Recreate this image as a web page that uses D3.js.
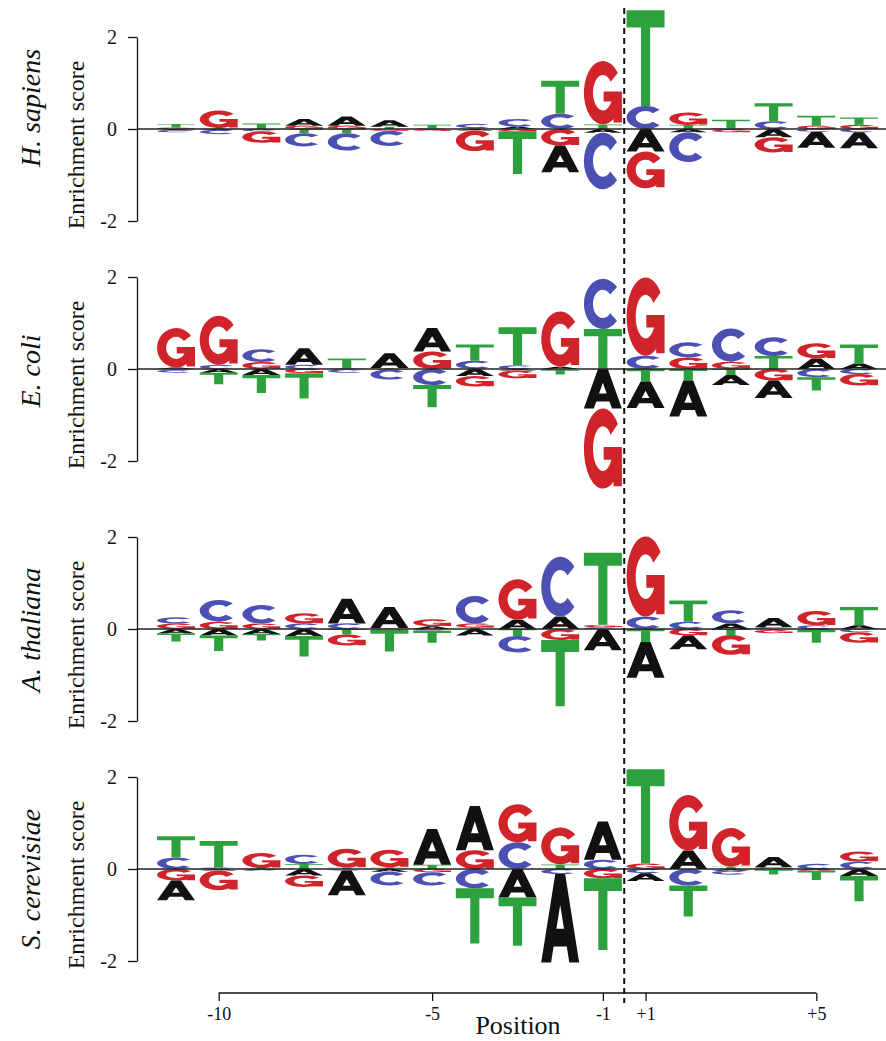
<!DOCTYPE html>
<html>
<head>
<meta charset="utf-8">
<script src="https://cdn.jsdelivr.net/npm/d3@7"></script>
<style>
  body { margin: 0; background: #fff; }
  svg { display: block; }
  text { font-family: "Liberation Serif", "Times New Roman", serif; fill: #111; }
</style>
</head>
<body>
<svg id="chart" width="886" height="1041"></svg>
<script>
// Sequence positions around the cleavage site (no position 0)
const positions = ["-11","-10","-9","-8","-7","-6","-5","-4","-3","-2","-1","+1","+2","+3","+4","+5","+6"];
const xTickLabels = ["-10","-5","-1","+1","+5"];
const yTickValues = [-2, 0, 2];
const species = ["H. sapiens", "E. coli", "A. thaliana", "S. cerevisiae"];

// Enrichment scores per nucleotide, one value per position
const sapiensA = [-0.03,-0.02,-0.02, 0.15, 0.20, 0.14,-0.01,-0.03, 0.05,-0.58,-0.08,-0.49,-0.07,-0.01,-0.18,-0.35,-0.35];
const sapiensC = [-0.04,-0.09,-0.03,-0.29,-0.38,-0.33, 0.01, 0.09, 0.17, 0.33,-1.23, 0.50,-0.65, 0.02, 0.17,-0.06,-0.07];
const sapiensG = [ 0.03, 0.38,-0.25, 0.07, 0.07,-0.04,-0.03,-0.45,-0.05,-0.36, 1.38,-0.80, 0.27,-0.06,-0.33, 0.07, 0.09];
const sapiensT = [ 0.08, 0.02, 0.12,-0.09,-0.09, 0.05, 0.08, 0.02,-0.93, 0.72, 0.10, 2.08, 0.09, 0.18, 0.39, 0.22, 0.16];

const coliA = [ 0.03,-0.08,-0.13, 0.36, 0.01, 0.32, 0.51,-0.15,-0.03, 0.05,-0.86,-0.58,-0.78,-0.22,-0.38, 0.23, 0.12];
const coliC = [-0.06, 0.09, 0.28, 0.09,-0.07,-0.22,-0.35, 0.18, 0.08,-0.02, 1.09, 0.29, 0.33, 0.72, 0.41,-0.18,-0.11];
const coliG = [ 0.86, 1.07, 0.15,-0.09,-0.01,-0.01, 0.38,-0.23,-0.17, 1.20,-1.74, 1.70, 0.25, 0.16,-0.25, 0.33,-0.25];
const coliT = [-0.02,-0.25,-0.39,-0.55, 0.22, 0.02,-0.48, 0.35, 0.83,-0.10, 0.87,-0.27,-0.25,-0.13, 0.28,-0.29, 0.41];

const thalianaA = [-0.10,-0.14,-0.11,-0.15, 0.54, 0.46, 0.06,-0.14, 0.20, 0.27,-0.46,-0.78,-0.30, 0.12, 0.20,-0.02, 0.08];
const thalianaC = [ 0.13, 0.47, 0.40, 0.12, 0.12, 0.02,-0.04, 0.60,-0.36, 1.30, 0.04, 0.27, 0.16, 0.29, 0.04, 0.08,-0.07];
const thalianaG = [ 0.12, 0.16, 0.12, 0.22,-0.24,-0.02, 0.15, 0.09, 0.88,-0.24, 0.05, 1.74,-0.14,-0.43,-0.07, 0.31,-0.23];
const thalianaT = [-0.17,-0.34,-0.14,-0.45,-0.12,-0.47,-0.26, 0.03,-0.15,-1.44, 1.57,-0.28, 0.46,-0.13,-0.02,-0.28, 0.40];

const cerevisiaeA = [-0.43,-0.03,-0.02,-0.14,-0.54,-0.06, 0.78, 0.96,-0.62,-1.92, 0.83,-0.17, 0.40,-0.04, 0.22,-0.02,-0.15];
const cerevisiaeC = [ 0.25, 0.03,-0.02, 0.20,-0.03,-0.30,-0.29,-0.42, 0.58,-0.11, 0.20,-0.09,-0.36,-0.08,-0.02, 0.11, 0.16];
const cerevisiaeG = [-0.25,-0.43, 0.33,-0.25, 0.41, 0.38,-0.07, 0.41, 0.83, 0.80,-0.20, 0.12, 1.21, 0.84, 0.04,-0.02, 0.22];
const cerevisiaeT = [ 0.46, 0.58, 0.02, 0.11, 0.03, 0.04, 0.09,-1.20,-1.05, 0.10,-1.56, 2.05,-0.67, 0.05,-0.10,-0.20,-0.55];

const panels = [
  { name: species[0], values: { A: sapiensA,   C: sapiensC,   G: sapiensG,   T: sapiensT } },
  { name: species[1], values: { A: coliA,      C: coliC,      G: coliG,      T: coliT } },
  { name: species[2], values: { A: thalianaA,  C: thalianaC,  G: thalianaG,  T: thalianaT } },
  { name: species[3], values: { A: cerevisiaeA, C: cerevisiaeC, G: cerevisiaeG, T: cerevisiaeT } }
];

const nucleotides = ["A", "C", "G", "T"];
const colors = { A: "#111111", C: "#4b50b2", G: "#d1232a", T: "#2ca13d" };

// Letter outlines in a 100x100 box, stretched to each stack cell
const glyphs = {
  A: "M0,100L37,0L63,0L100,100L74,100L67.3,82L32.7,82L26,100Z M50,35L40,62L60,62Z",
  C: "M87.2,16.5A50,50 0 1 0 87.2,83.5L69.3,68.7A26,28 0 1 1 69.3,31.3Z",
  G: "M89.4,19.2A50,50 0 1 0 97,67.1L74.4,59.6A26,28 0 1 1 70.5,32.8Z M52,48L52,64L100,64L100,48Z M78,48L78,97L100,97L100,48Z",
  T: "M0,0L0,18L38,18L38,100L62,100L62,18L100,18L100,0Z"
};

const svg = d3.select("#chart");
const zeros = [129, 369, 629, 869];
const speciesCenters = [108, 371, 630, 879];
const halfSpan = 92;
const axisX = 137;

const x = d3.scalePoint().domain(positions).range([176, 859]);
const letterW = x.step() * 0.89;

panels.forEach((p, k) => {
  const zero = zeros[k];
  const y = d3.scaleLinear().domain([-2, 2]).range([zero + halfSpan, zero - halfSpan]);
  const g = svg.append("g");

  // stacked letters: smallest magnitude nearest the baseline
  positions.forEach((pos, i) => {
    const items = nucleotides.map(n => ({ n, v: p.values[n][i] }));
    const up = items.filter(d => d.v > 0).sort((a, b) => a.v - b.v);
    const down = items.filter(d => d.v < 0).sort((a, b) => b.v - a.v);
    let acc = 0;
    up.forEach(d => { d.y0 = acc; d.y1 = acc + d.v; acc = d.y1; });
    acc = 0;
    down.forEach(d => { d.y0 = acc; d.y1 = acc + d.v; acc = d.y1; });
    up.concat(down).forEach(d => {
      const top = y(Math.max(d.y0, d.y1));
      const bot = y(Math.min(d.y0, d.y1));
      g.append("path")
        .attr("d", glyphs[d.n])
        .attr("fill", colors[d.n])
        .attr("transform", `translate(${x(pos) - letterW / 2},${top}) scale(${letterW / 100},${(bot - top) / 100})`);
    });
  });

  // baseline at zero
  g.append("line")
    .attr("x1", axisX).attr("x2", 886)
    .attr("y1", y(0)).attr("y2", y(0))
    .attr("stroke", "#222").attr("stroke-width", 1.3);

  // y axis
  const ya = g.append("g")
    .attr("transform", `translate(${axisX},0)`)
    .call(d3.axisLeft(y).tickValues(yTickValues).tickSize(9).tickSizeOuter(0).tickPadding(11)
      .tickFormat(d => d < 0 ? "-" + Math.abs(d) : String(d)));
  ya.select(".domain").attr("stroke", "#111").attr("stroke-width", 1.3);
  ya.selectAll(".tick line").attr("stroke", "#111").attr("stroke-width", 1.3);
  ya.selectAll(".tick text")
    .style("font-family", '"Liberation Serif", serif')
    .style("font-size", "20px").attr("fill", "#111");

  g.append("text")
    .attr("transform", `translate(84,${zero + 16}) rotate(-90)`)
    .attr("text-anchor", "middle")
    .style("font-size", "24px")
    .text("Enrichment score");

  g.append("text")
    .attr("transform", `translate(40,${speciesCenters[k]}) rotate(-90)`)
    .attr("text-anchor", "middle")
    .style("font-size", "28px")
    .style("font-style", "italic")
    .text(p.name);
});

// position axis
const axisY = 993;
const xa = svg.append("g")
  .attr("transform", `translate(0,${axisY})`)
  .call(d3.axisBottom(x).tickValues(xTickLabels).tickSize(8).tickSizeOuter(0).tickPadding(6));
xa.select(".domain").remove();
xa.append("line")
  .attr("x1", x("-10")).attr("x2", x("+5"))
  .attr("stroke", "#111").attr("stroke-width", 1.3);
xa.selectAll(".tick line").attr("stroke", "#111").attr("stroke-width", 1.3);
xa.selectAll(".tick text")
  .style("font-family", '"Liberation Serif", serif')
  .style("font-size", "18px").attr("fill", "#111");

svg.append("text")
  .attr("x", 518).attr("y", 1034)
  .attr("text-anchor", "middle")
  .style("font-size", "26px")
  .text("Position");

// cleavage site marker between -1 and +1
svg.append("line")
  .attr("x1", (x("-1") + x("+1")) / 2).attr("x2", (x("-1") + x("+1")) / 2)
  .attr("y1", 8).attr("y2", 1003)
  .attr("stroke", "#111").attr("stroke-width", 2)
  .attr("stroke-dasharray", "6,4");
</script>
</body>
</html>
